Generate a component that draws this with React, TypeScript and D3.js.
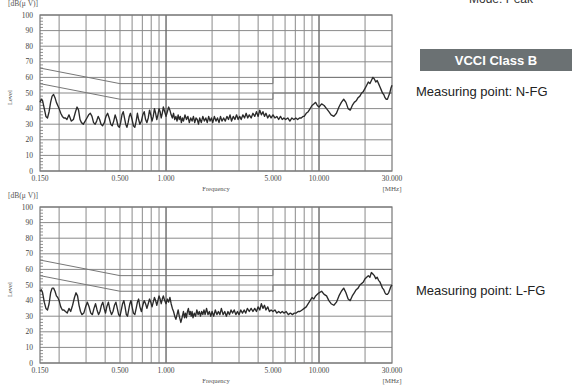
import React from "react";
import * as d3 from "d3";

// ---- data ----
const yTicks = [0, 10, 20, 30, 40, 50, 60, 70, 80, 90, 100];
const xGridFreqs = [0.2, 0.3, 0.4, 0.5, 0.6, 0.7, 0.8, 0.9, 1, 2, 3, 4, 5, 6, 7, 8, 9, 10, 20];
const xTickFreqs = [0.15, 0.5, 1, 5, 10, 30];
const xTickLabels = ["0.150", "0.500", "1.000", "5.000", "10.000", "30.000"];

const limitFreqs = [0.15, 0.5, 5, 5, 30];
const qpLimit = [66, 56, 56, 60, 60];
const avgLimit = [56, 46, 46, 50, 50];

const nfgTrace: [number, number][] = [
  [0.150, 44], [0.153, 46], [0.156, 45], [0.160, 40], [0.164, 35], [0.168, 34], [0.172, 38], [0.176, 44],
  [0.180, 48], [0.184, 49], [0.188, 47], [0.192, 44], [0.196, 42], [0.200, 40], [0.205, 37], [0.210, 35],
  [0.215, 34], [0.220, 34], [0.225, 33], [0.232, 36], [0.240, 32], [0.248, 33], [0.256, 38], [0.262, 41],
  [0.268, 39], [0.274, 33], [0.280, 31], [0.288, 30], [0.296, 32], [0.304, 34], [0.312, 36], [0.320, 37],
  [0.328, 35], [0.336, 31], [0.344, 30], [0.352, 32], [0.360, 35], [0.368, 33], [0.376, 30], [0.385, 29],
  [0.395, 31], [0.405, 35], [0.415, 37], [0.425, 34], [0.435, 30], [0.445, 29], [0.455, 32], [0.465, 36],
  [0.475, 33], [0.485, 29], [0.495, 28], [0.505, 31], [0.515, 36], [0.525, 38], [0.535, 34], [0.545, 30],
  [0.555, 28], [0.565, 31], [0.575, 35], [0.585, 37], [0.600, 33], [0.612, 29], [0.625, 28], [0.638, 32],
  [0.650, 37], [0.662, 33], [0.675, 30], [0.690, 32], [0.705, 36], [0.720, 38], [0.735, 33], [0.750, 31],
  [0.765, 34], [0.780, 39], [0.795, 36], [0.810, 32], [0.825, 35], [0.840, 40], [0.855, 37], [0.870, 33],
  [0.885, 36], [0.900, 40], [0.915, 38], [0.930, 34], [0.945, 37], [0.960, 41], [0.980, 38], [1.000, 35],
  [1.02, 38], [1.04, 41], [1.06, 39], [1.08, 36], [1.10, 34], [1.12, 37], [1.14, 33], [1.16, 35],
  [1.18, 32], [1.20, 36], [1.22, 33], [1.24, 35], [1.26, 31], [1.28, 34], [1.30, 32], [1.33, 36],
  [1.36, 33], [1.39, 35], [1.42, 31], [1.45, 34], [1.48, 32], [1.51, 35], [1.54, 31], [1.57, 34],
  [1.60, 33], [1.63, 30], [1.66, 34], [1.70, 31], [1.74, 35], [1.78, 32], [1.82, 34], [1.86, 31],
  [1.90, 35], [1.94, 32], [1.98, 34], [2.02, 31], [2.07, 35], [2.12, 32], [2.17, 34], [2.22, 31],
  [2.27, 35], [2.32, 32], [2.38, 34], [2.44, 32], [2.50, 35], [2.56, 33], [2.62, 36], [2.68, 32],
  [2.75, 35], [2.82, 33], [2.89, 36], [2.96, 33], [3.03, 35], [3.10, 33], [3.18, 36], [3.26, 34],
  [3.34, 37], [3.42, 34], [3.50, 36], [3.60, 34], [3.70, 37], [3.80, 35], [3.90, 38], [4.00, 35],
  [4.10, 39], [4.20, 36], [4.30, 38], [4.40, 35], [4.50, 37], [4.62, 34], [4.74, 36], [4.86, 34],
  [5.00, 36], [5.15, 34], [5.30, 35], [5.45, 33], [5.60, 35], [5.75, 33], [5.90, 34], [6.05, 33],
  [6.25, 34], [6.45, 32], [6.65, 34], [6.85, 33], [7.05, 34], [7.25, 33], [7.45, 34], [7.65, 34],
  [7.85, 35], [8.00, 35], [8.25, 37], [8.50, 38], [8.75, 40], [9.00, 42], [9.25, 43], [9.50, 44],
  [9.75, 42], [10.0, 41], [10.4, 43], [10.8, 42], [11.2, 40], [11.6, 38], [12.0, 36], [12.5, 35],
  [13.0, 37], [13.5, 41], [14.0, 44], [14.5, 46], [15.0, 44], [15.5, 40], [16.0, 39], [16.5, 42],
  [17.0, 44], [17.5, 45], [18.0, 47], [18.5, 48], [19.0, 50], [19.5, 51], [20.0, 53], [20.5, 55],
  [21.0, 57], [21.5, 56], [22.0, 58], [22.5, 60], [23.0, 59], [23.5, 57], [24.0, 58], [24.5, 56],
  [25.0, 54], [25.5, 52], [26.0, 50], [26.5, 49], [27.0, 47], [27.5, 46], [28.0, 46], [28.5, 48],
  [29.0, 50], [29.5, 53], [30.0, 55],
];

const lfgTrace: [number, number][] = [
  [0.150, 46], [0.153, 47], [0.156, 45], [0.160, 39], [0.164, 35], [0.168, 34], [0.172, 38], [0.176, 45],
  [0.180, 48], [0.184, 48], [0.188, 46], [0.192, 43], [0.196, 42], [0.200, 40], [0.205, 36], [0.210, 34],
  [0.215, 34], [0.220, 33], [0.226, 32], [0.232, 35], [0.238, 33], [0.245, 37], [0.252, 42], [0.258, 45],
  [0.264, 43], [0.270, 37], [0.276, 33], [0.282, 31], [0.290, 32], [0.298, 36], [0.306, 39], [0.314, 36],
  [0.322, 32], [0.330, 31], [0.338, 35], [0.346, 38], [0.354, 34], [0.362, 31], [0.370, 33], [0.378, 37],
  [0.386, 39], [0.394, 35], [0.402, 32], [0.410, 36], [0.420, 39], [0.430, 34], [0.440, 31], [0.450, 33],
  [0.460, 37], [0.470, 39], [0.480, 35], [0.490, 31], [0.500, 30], [0.510, 34], [0.520, 38], [0.530, 40],
  [0.540, 36], [0.550, 31], [0.560, 30], [0.570, 34], [0.580, 38], [0.590, 40], [0.600, 36], [0.612, 32],
  [0.625, 31], [0.638, 35], [0.650, 39], [0.662, 41], [0.675, 36], [0.690, 33], [0.705, 37], [0.720, 40],
  [0.735, 38], [0.750, 35], [0.765, 38], [0.780, 41], [0.795, 39], [0.810, 36], [0.825, 39], [0.840, 42],
  [0.855, 40], [0.870, 37], [0.885, 40], [0.900, 43], [0.915, 41], [0.930, 38], [0.945, 41], [0.960, 43],
  [0.980, 40], [1.000, 38], [1.02, 41], [1.04, 39], [1.06, 42], [1.08, 38], [1.10, 35], [1.12, 33],
  [1.14, 30], [1.16, 28], [1.18, 31], [1.20, 34], [1.22, 30], [1.25, 26], [1.28, 30], [1.30, 33],
  [1.32, 29], [1.34, 32], [1.36, 29], [1.38, 33], [1.40, 35], [1.42, 31], [1.44, 33], [1.46, 30],
  [1.48, 33], [1.50, 29], [1.53, 32], [1.56, 30], [1.59, 34], [1.62, 31], [1.65, 33], [1.68, 30],
  [1.71, 33], [1.74, 31], [1.77, 34], [1.80, 31], [1.84, 35], [1.88, 31], [1.92, 33], [1.96, 30],
  [2.00, 33], [2.05, 30], [2.10, 34], [2.15, 31], [2.20, 33], [2.25, 31], [2.30, 35], [2.36, 31],
  [2.42, 33], [2.48, 30], [2.54, 33], [2.60, 31], [2.66, 34], [2.72, 32], [2.79, 34], [2.86, 31],
  [2.93, 33], [3.00, 31], [3.08, 34], [3.16, 32], [3.24, 34], [3.32, 32], [3.40, 35], [3.50, 33],
  [3.60, 35], [3.70, 33], [3.80, 35], [3.90, 33], [4.00, 36], [4.10, 34], [4.20, 38], [4.30, 35],
  [4.40, 37], [4.50, 34], [4.62, 36], [4.74, 33], [4.86, 34], [5.00, 33], [5.15, 34], [5.30, 32],
  [5.45, 33], [5.60, 32], [5.75, 33], [5.90, 32], [6.10, 33], [6.30, 31], [6.50, 32], [6.70, 31],
  [6.90, 32], [7.10, 32], [7.30, 33], [7.50, 33], [7.75, 34], [8.00, 35], [8.25, 36], [8.50, 38],
  [8.75, 40], [9.00, 42], [9.25, 41], [9.50, 43], [9.75, 44], [10.0, 45], [10.4, 46], [10.8, 44],
  [11.2, 43], [11.6, 40], [12.0, 38], [12.5, 37], [13.0, 39], [13.5, 43], [14.0, 46], [14.5, 48],
  [15.0, 45], [15.5, 41], [16.0, 40], [16.5, 43], [17.0, 45], [17.5, 47], [18.0, 48], [18.5, 50],
  [19.0, 51], [19.5, 52], [20.0, 54], [20.5, 55], [21.0, 56], [21.5, 55], [22.0, 58], [22.5, 57],
  [23.0, 56], [23.5, 54], [24.0, 55], [24.5, 53], [25.0, 52], [25.5, 50], [26.0, 48], [26.5, 47],
  [27.0, 45], [27.5, 44], [28.0, 44], [28.5, 45], [29.0, 47], [29.5, 49], [30.0, 50],
];

const SERIF = "'Liberation Serif', 'DejaVu Serif', serif";
const SANS = "'Liberation Sans', Arial, sans-serif";

type ChartProps = { top: number; bottom: number; trace: [number, number][] };

function EmiChart({ top, bottom, trace }: ChartProps) {
  const left = 40;
  const right = 392;
  const x = d3.scaleLog().domain([0.15, 30]).range([left, right]);
  const y = d3.scaleLinear().domain([0, 100]).range([bottom, top]);
  const line = d3
    .line<[number, number]>()
    .x((d) => x(d[0]))
    .y((d) => y(d[1]));
  const limitLine = (vals: number[]) =>
    line(limitFreqs.map((f, i) => [f, vals[i]] as [number, number])) || "";
  const minor = d3.range(0, 101, 2).filter((v) => v % 10 !== 0);
  const gridColor = "#8a8a8a";
  return (
    <g>
      {yTicks.map((t) => (
        <line key={"h" + t} x1={left} x2={right} y1={y(t)} y2={y(t)} stroke={gridColor} strokeWidth={1} />
      ))}
      {xGridFreqs.map((f) => (
        <line
          key={"v" + f}
          x1={x(f)}
          x2={x(f)}
          y1={top}
          y2={bottom}
          stroke={f === 1 || f === 10 ? "#6a6a6a" : gridColor}
          strokeWidth={f === 1 || f === 10 ? 1.4 : 1}
        />
      ))}
      {minor.map((m) => (
        <line key={"m" + m} x1={left} x2={left + 3} y1={y(m)} y2={y(m)} stroke="#777" strokeWidth={0.8} />
      ))}
      <rect x={left} y={top} width={right - left} height={bottom - top} fill="none" stroke="#777" strokeWidth={1.2} />
      <path d={limitLine(qpLimit)} fill="none" stroke="#777" strokeWidth={1} />
      <path d={limitLine(avgLimit)} fill="none" stroke="#777" strokeWidth={1} />
      <path d={line(trace) || ""} fill="none" stroke="#2a2a2a" strokeWidth={1.35} strokeLinejoin="round" />
      {yTicks.map((t) => (
        <text key={"yl" + t} x={33} y={y(t) + 2.5} fontSize={7.5} fontFamily={SERIF} textAnchor="end" fill="#444">
          {t}
        </text>
      ))}
      <text x={8} y={top - 9} fontSize={7.5} fontFamily={SERIF} fill="#555">
        [dB(μ V)]
      </text>
      <text
        transform={`translate(12,${y(47)}) rotate(-90)`}
        fontSize={6.5}
        fontFamily={SERIF}
        textAnchor="middle"
        fill="#555"
      >
        Level
      </text>
      {xTickFreqs.map((f, i) => (
        <text key={"xl" + f} x={x(f)} y={bottom + 10} fontSize={7.5} fontFamily={SERIF} textAnchor="middle" fill="#444">
          {xTickLabels[i]}
        </text>
      ))}
      <text x={216} y={bottom + 20} fontSize={6.5} fontFamily={SERIF} textAnchor="middle" fill="#555">
        Frequency
      </text>
      <text x={right} y={bottom + 20} fontSize={7} fontFamily={SERIF} textAnchor="middle" fill="#555">
        [MHz]
      </text>
    </g>
  );
}

export default function App() {
  return (
    <svg
      width={577}
      height={389}
      style={{ position: "absolute", left: 0, top: 0, background: "#fff" }}
    >
      <rect x={0} y={0} width={577} height={389} fill="#fff" />
      <EmiChart top={15} bottom={171} trace={nfgTrace} />
      <EmiChart top={207} bottom={363} trace={lfgTrace} />
      <text x={501} y={3} fontSize={12} fontFamily={SANS} textAnchor="middle" fill="#333">
        Mode: Peak
      </text>
      <rect x={420} y={49} width={152} height={22} fill="#6b7173" />
      <text x={496} y={65} fontSize={13} fontWeight="bold" fontFamily={SANS} textAnchor="middle" fill="#fff">
        VCCI Class B
      </text>
      <text x={416} y={96} fontSize={13} fontFamily={SANS} fill="#222">
        Measuring point: N-FG
      </text>
      <text x={416} y={295} fontSize={13} fontFamily={SANS} fill="#222">
        Measuring point: L-FG
      </text>
    </svg>
  );
}
